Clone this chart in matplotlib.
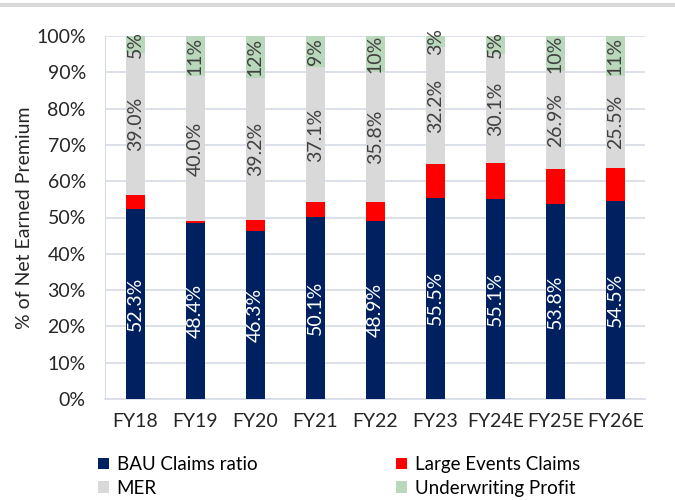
import numpy as np
import matplotlib
matplotlib.use("Agg")
import matplotlib.pyplot as plt
from matplotlib.ticker import PercentFormatter

plt.rcParams['font.family'] = ['Lato', 'DejaVu Sans']

years = ["FY18", "FY19", "FY20", "FY21", "FY22", "FY23", "FY24E", "FY25E", "FY26E"]
bau = [52.3, 48.4, 46.3, 50.1, 48.9, 55.5, 55.1, 53.8, 54.5]
large = [4.0, 0.6, 3.0, 4.2, 5.4, 9.2, 9.9, 9.6, 9.0]
mer = [39.0, 40.0, 39.2, 37.1, 35.8, 32.2, 30.1, 26.9, 25.5]
uwp = [4.7, 11.0, 11.5, 8.6, 9.9, 3.1, 4.9, 9.7, 11.0]
uwp_labels = ["5%", "11%", "12%", "9%", "10%", "3%", "5%", "10%", "11%"]

c_bau = "#002060"
c_large = "#ff0000"
c_mer = "#d9d9d9"
c_uwp = "#b9d7bb"

fig = plt.figure(figsize=(6.75, 5), dpi=100)
ax = fig.add_axes([0.156, 0.202, 0.8, 0.726])

x = np.arange(len(years))
w = 0.32
b1 = np.array(bau)
b2 = b1 + np.array(large)
b3 = b2 + np.array(mer)

h1 = ax.bar(x, bau, w, color=c_bau, label="BAU Claims ratio", zorder=3)
h2 = ax.bar(x, large, w, bottom=b1, color=c_large, label="Large Events Claims", zorder=3)
h3 = ax.bar(x, mer, w, bottom=b2, color=c_mer, label="MER", zorder=3)
h4 = ax.bar(x, uwp, w, bottom=b3, color=c_uwp, label="Underwriting Profit", zorder=3)

fs = 14
for i in range(len(years)):
    ax.text(x[i], bau[i] / 2, f"{bau[i]:.1f}%", rotation=90, ha="center", va="center",
            color="white", fontsize=fs, zorder=4)
    ax.text(x[i], b2[i] + mer[i] / 2, f"{mer[i]:.1f}%", rotation=90, ha="center", va="center",
            color="#404040", fontsize=fs, zorder=4)
    ax.text(x[i], b3[i] + uwp[i] / 2, uwp_labels[i], rotation=90, ha="center", va="center",
            color="#404040", fontsize=fs, zorder=4)

ax.set_xlim(-0.5, len(years) - 0.5)
ax.set_ylim(0, 100)
ax.set_yticks(np.arange(0, 101, 10))
ax.yaxis.set_major_formatter(PercentFormatter(decimals=0))
ax.set_xticks(x)
ax.set_xticklabels(years)
ax.tick_params(axis="both", length=0, labelsize=fs, colors="#262626")
ax.tick_params(axis="y", pad=14)
ax.tick_params(axis="x", pad=10)
ax.grid(axis="y", color="#d6dce5", linewidth=1.2, zorder=0)
for s in ["top", "right"]:
    ax.spines[s].set_visible(False)
ax.spines["left"].set_color("#d6dce5")
ax.spines["bottom"].set_color("#d6dce5")
ax.spines["bottom"].set_linewidth(1.2)
ax.set_ylabel("% of Net Earned Premium", fontsize=fs, color="#262626", labelpad=2)

# legend rows: BAU / Large, then MER / UW profit
fig.legend([h1, h3, h2, h4],
           ["BAU Claims ratio", "MER", "Large Events Claims", "Underwriting Profit"],
           loc="lower left", bbox_to_anchor=(0.12, -0.027), ncol=2, frameon=False,
           fontsize=13.5, handlelength=0.6, handleheight=0.6, handletextpad=0.4,
           columnspacing=7.4, labelspacing=0.35)

fig.add_artist(plt.Line2D([0.0, 1.0], [0.99, 0.99], color="#d9d9d9", linewidth=3))

fig.savefig("out.png", dpi=100)
